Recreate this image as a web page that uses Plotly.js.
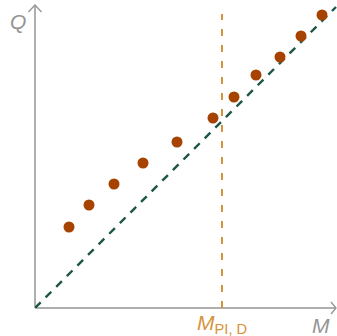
<!DOCTYPE html>
<html>
<head>
<meta charset="utf-8">
<script src="https://cdn.plot.ly/plotly-3.0.1.min.js"></script>
<style>html,body{margin:0;padding:0;background:#fff;}#chart{width:337px;height:336px;}</style>
</head>
<body>
<div id="chart"></div>
<script>
// data (arbitrary units)
const pointX = [34, 54, 79, 108, 142, 178, 199, 221, 245, 266, 287];
const pointY = [81, 103, 124, 145, 166, 190, 211, 233, 251, 272, 293];
const diagX = [0, 301];
const diagY = [0, 301];
const mpidX = 187;
const mpidTop = 294;
const axisMaxX = 301;
const axisMaxY = 303;
const labelQ = "Q";
const labelM = "M";
const labelMpid = "<i>M</i><sub>PI, D</sub>";

const XR = 302, YR = 308;
const px = v => v / XR;
const py = v => v / YR;

const grey = "#949494";
const orange = "#d6933a";
const dotColor = "#a64300";
const green = "#1d5546";
const font = "Liberation Sans, Arial, sans-serif";

const traces = [
  {x: diagX, y: diagY, mode: "lines", line: {color: green, width: 2.4, dash: "8px,7px"}, hoverinfo: "skip"},
  {x: [mpidX, mpidX], y: [0, mpidTop], mode: "lines", line: {color: orange, width: 2, dash: "7px,9px"}, hoverinfo: "skip"},
  {x: pointX, y: pointY, mode: "markers", marker: {color: dotColor, size: 11}, cliponaxis: false}
];

const layout = {
  width: 337, height: 336,
  margin: {l: 35, r: 0, t: 0, b: 28},
  paper_bgcolor: "#fff", plot_bgcolor: "#fff",
  showlegend: false,
  xaxis: {range: [0, XR], visible: false, fixedrange: true},
  yaxis: {range: [0, YR], visible: false, fixedrange: true},
  shapes: [
    {type: "line", xref: "paper", yref: "paper", x0: 0, y0: 0, x1: px(axisMaxX), y1: 0, line: {color: grey, width: 1.5}, layer: "below"},
    {type: "line", xref: "paper", yref: "paper", x0: 0, y0: 0, x1: 0, y1: py(axisMaxY), line: {color: grey, width: 1.5}, layer: "below"},
    {type: "path", xref: "paper", yref: "paper", path: `M${px(axisMaxX-5)},${py(6)} L${px(axisMaxX)},0 L${px(axisMaxX-5)},${py(-6)}`, line: {color: grey, width: 1.3}},
    {type: "path", xref: "paper", yref: "paper", path: `M${px(-6.5)},${py(axisMaxY-7)} L0,${py(axisMaxY)} L${px(6.5)},${py(axisMaxY-7)}`, line: {color: grey, width: 1.3}}
  ],
  annotations: [
    {x: px(-17), y: py(287), xref: "paper", yref: "paper", xanchor: "center", yanchor: "middle", text: "<i>" + labelQ + "</i>", showarrow: false, font: {family: font, size: 21, color: grey}},
    {x: px(286), y: py(-17), xref: "paper", yref: "paper", xanchor: "center", yanchor: "middle", text: "<i>" + labelM + "</i>", showarrow: false, font: {family: font, size: 21, color: grey}},
    {x: px(mpidX), y: py(-16), xref: "paper", yref: "paper", xanchor: "center", yanchor: "middle", text: labelMpid, showarrow: false, font: {family: font, size: 21, color: orange}}
  ]
};

Plotly.newPlot("chart", traces, layout, {displayModeBar: false, staticPlot: true});
</script>
</body>
</html>
